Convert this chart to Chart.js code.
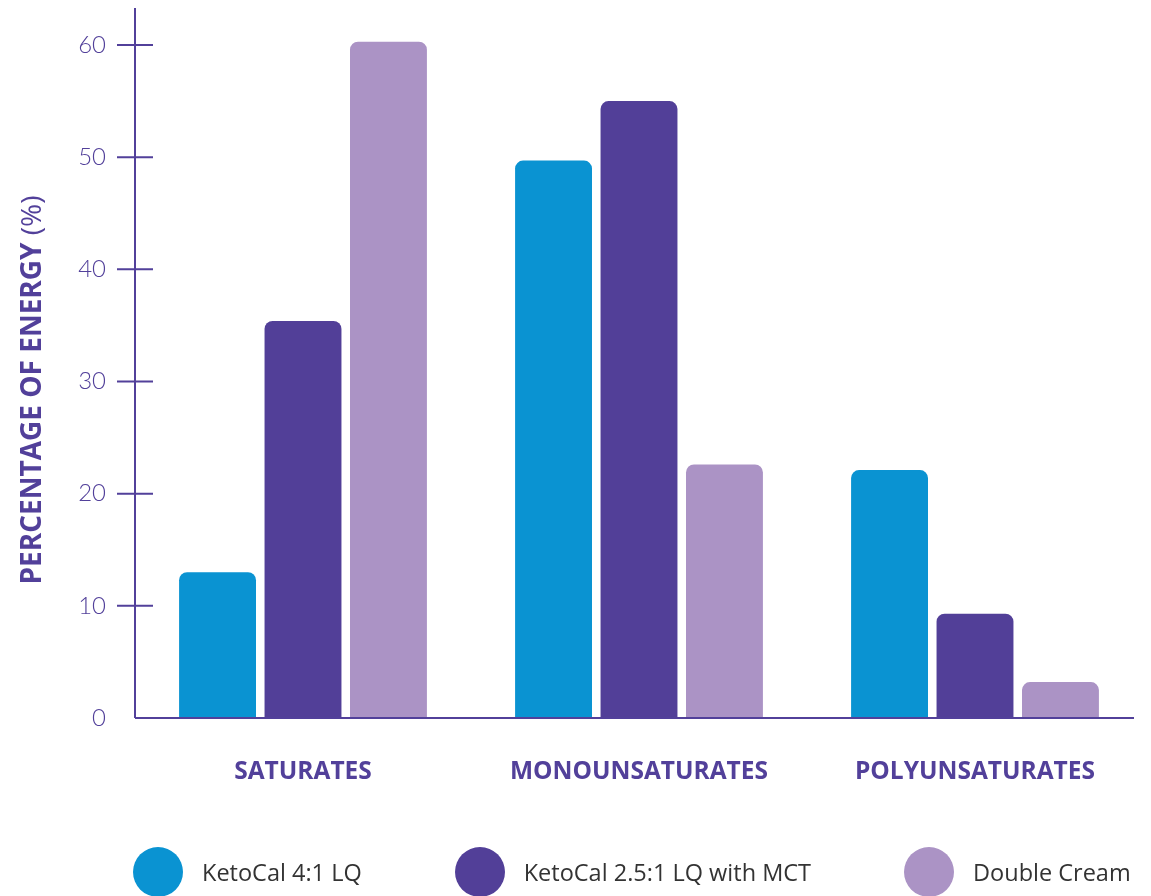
<!DOCTYPE html>
<html>
<head>
<meta charset="utf-8">
<script src="https://cdn.jsdelivr.net/npm/chart.js@4"></script>
<style>
  body { margin: 0; background: #fff; overflow: hidden; }
  #wrap { position: relative; width: 1151px; height: 896px; }
  #legend { position: absolute; left: 133px; top: 847px; display: flex; gap: 93px; font-family: "Open Sans", sans-serif; font-size: 23.5px; color: #333; }
  .item { display: flex; align-items: center; height: 50px; }
  .dot { width: 50px; height: 50px; border-radius: 50%; margin-right: 19px; }
</style>
</head>
<body>
<div id="wrap">
  <canvas id="grafik" width="1151" height="896"></canvas>
  <div id="legend"></div>
</div>
<script>
var kategoriler = ["SATURATES", "MONOUNSATURATES", "POLYUNSATURATES"];
var seriAdlari = ["KetoCal 4:1 LQ", "KetoCal 2.5:1 LQ with MCT", "Double Cream"];
var ketoCal41 = [13.0, 49.7, 22.1];
var ketoCal251 = [35.4, 55.0, 9.3];
var doubleCream = [60.3, 22.6, 3.2];
var yTikler = [0, 10, 20, 30, 40, 50, 60];
var renkler = ["#0a93d2", "#523f98", "#ab93c5"];
var eksenRengi = "#52409a";

var eksenCizici = {
    id: "eksenCizici",
    afterDatasetsDraw: function (chart) {
        var ctx = chart.ctx;
        var a = chart.chartArea;
        var y = chart.scales.y;
        ctx.save();
        ctx.strokeStyle = eksenRengi;
        ctx.lineWidth = 2;
        ctx.beginPath();
        ctx.moveTo(a.left, a.top);
        ctx.lineTo(a.left, a.bottom);
        ctx.moveTo(a.left, a.bottom);
        ctx.lineTo(a.right - 9, a.bottom);
        yTikler.forEach(function (v) {
            if (v === 0) return;
            var py = y.getPixelForValue(v);
            ctx.moveTo(a.left - 18, py);
            ctx.lineTo(a.left + 18, py);
        });
        ctx.stroke();

        // y ekseni basligi
        var kalin = "bold 28px 'Open Sans', sans-serif";
        var ince = "28px 'Open Sans', sans-serif";
        var t1 = "PERCENTAGE OF ENERGY ";
        var t2 = "(%)";
        ctx.font = kalin;
        var w1 = ctx.measureText(t1).width;
        ctx.font = ince;
        var w2 = ctx.measureText(t2).width;
        ctx.translate(33, 390);
        ctx.rotate(-Math.PI / 2);
        ctx.fillStyle = eksenRengi;
        ctx.textBaseline = "middle";
        ctx.textAlign = "left";
        var x0 = -(w1 + w2) / 2;
        ctx.font = kalin;
        ctx.fillText(t1, x0, 0);
        ctx.font = ince;
        ctx.fillText(t2, x0 + w1, 0);
        ctx.restore();
    }
};

var chart = new Chart("grafik", {
    type: "bar",
    data: {
        labels: kategoriler,
        datasets: [ketoCal41, ketoCal251, doubleCream].map(function (d, i) {
            return {
                label: seriAdlari[i],
                data: d,
                backgroundColor: renkler[i],
                borderRadius: { topLeft: 8, topRight: 8 },
                borderSkipped: "start",
                categoryPercentage: 0.763,
                barPercentage: 0.9
            };
        })
    },
    options: {
        responsive: false,
        animation: false,
        layout: { padding: { top: 8, right: 8, left: 0, bottom: 0 } },
        plugins: {
            legend: { display: false },
            tooltip: { enabled: false }
        },
        scales: {
            x: {
                grid: { display: false, drawTicks: false },
                border: { display: false },
                ticks: {
                    color: eksenRengi,
                    padding: 39,
                    font: { family: "'Open Sans', sans-serif", size: 24.5, weight: "bold" }
                },
                afterFit: function (s) {
                    s.height = 178;
                    s.paddingLeft = 0;
                    s.paddingRight = 0;
                }
            },
            y: {
                min: 0,
                max: 63.3,
                grid: { display: false, drawTicks: false },
                border: { display: false },
                ticks: {
                    stepSize: 10,
                    color: eksenRengi,
                    padding: 29,
                    font: { family: "Lato, sans-serif", size: 24, weight: "300" }
                },
                afterBuildTicks: function (s) {
                    s.ticks = s.ticks.filter(function (t) { return yTikler.indexOf(t.value) !== -1; });
                },
                afterFit: function (s) {
                    s.width = 135;
                    s.paddingTop = 0;
                    s.paddingBottom = 0;
                }
            }
        }
    },
    plugins: [eksenCizici]
});

var lejant = document.getElementById("legend");
chart.data.datasets.forEach(function (ds) {
    var item = document.createElement("div");
    item.className = "item";
    var dot = document.createElement("span");
    dot.className = "dot";
    dot.style.background = ds.backgroundColor;
    var txt = document.createElement("span");
    txt.textContent = ds.label;
    item.appendChild(dot);
    item.appendChild(txt);
    lejant.appendChild(item);
});
</script>
</body>
</html>
